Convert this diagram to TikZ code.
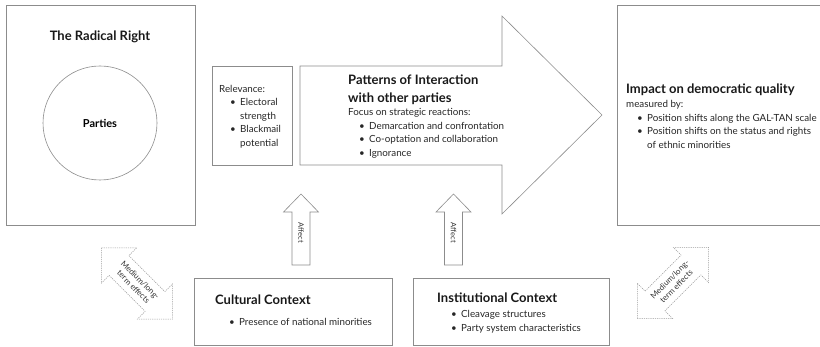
\documentclass[tikz,border=0pt]{standalone}
\usepackage{fontspec}
\setmainfont{Lato}
\usetikzlibrary{positioning}

\newcommand{\itm}[1]{\hspace*{11pt}\makebox[10pt][l]{\textbullet}#1}
\newcommand{\cnt}[1]{\hspace*{21pt}#1}

\begin{document}
\begin{tikzpicture}[x=1pt,y=-1pt]

\tikzset{
	frame/.style={draw=black!45,line width=0.6pt},
	dframe/.style={draw=black!40,line width=0.5pt,dash pattern=on 1.2pt off 1pt},
	ttl/.style={font=\fontsize{13}{17.5}\selectfont\bfseries,text=black!90,inner sep=0pt,align=left},
	txt/.style={font=\fontsize{9.8}{13.5}\selectfont,text=black!85,inner sep=0pt,align=left,anchor=base west},
	pics/affect/.style args={#1}{code={
	\draw[frame,fill=white] (-9,0) -- (-9,-53) -- (-17.5,-53) -- (0,-71)
		-- (17.5,-53) -- (9,-53) -- (9,0) -- cycle;
	\node[rotate=-90,font=\fontsize{7.5}{9}\selectfont,text=black!80,inner sep=0pt] (#1) at (0,-32) {Affect};
	},
	},
	pics/effects/.style args={#1/#2}{code={
	\draw[dframe,rotate=#1] (-50.5,0) -- (-25.5,25) -- (-25.5,14) -- (25.5,14)
		-- (25.5,25) -- (50.5,0) -- (25.5,-25) -- (25.5,-14) -- (-25.5,-14)
		-- (-25.5,-25) -- cycle;
	\node[rotate=#1,align=center,font=\fontsize{8}{9.5}\selectfont,text=black!80,inner sep=0pt] (#2) at (0,0) {Medium/long-\\term effects};
	},
	}
}
\clip (0,0) rectangle (820,347);

%THE RADICAL RIGHT
\draw[frame] (6,5) rectangle (195,225);
\node[ttl] (rr) at (100,37) {The Radical Right};
\node[circle,frame,minimum size=114pt,font=\fontsize{11}{13}\selectfont\bfseries] (parties) at (100,123) {Parties};

%RELEVANCE
\draw[frame] (212,66) rectangle (292,165);
\node[txt] (relevance) at (219,146.5) {Relevance:\\\itm{Electoral}\\\cnt{strength}\\\itm{Blackmail}\\\cnt{potential}};

%PATTERNS
\draw[frame] (300,66) -- (502,66) -- (502,16) -- (602,115) -- (502,214) -- (502,165) -- (300,165) -- cycle;
\node[ttl,anchor=base west] (patterns) at (348,102.5) {Patterns of Interaction\\with other parties};
\node[txt] (focus) at (348,156.5) {Focus on strategic reactions:\\\itm{Demarcation and confrontation}\\\itm{Co-optation and collaboration}\\\itm{Ignorance}};

%IMPACT
\draw[frame] (617,5) rectangle (830,225);
\node[ttl,anchor=base west] (impact) at (626,94) {Impact on democratic quality};
\node[txt] (measured) at (626,148.5) {measured by:\\\itm{Position shifts along the GAL-TAN scale}\\\itm{Position shifts on the status and rights}\\\cnt{of ethnic minorities}};

%CONTEXTS
\draw[frame] (194,278) rectangle (392,345);
\node[ttl,anchor=base west] (cultural) at (215,304.5) {Cultural Context};
\node[txt] (minorities) at (218,325.5) {\itm{Presence of national minorities}};
\draw[frame] (413,278) rectangle (609,345);
\node[ttl,anchor=base west] (institutional) at (437,302.5) {Institutional Context};
\node[txt] (cleavage) at (440,331.5) {\itm{Cleavage structures}\\\itm{Party system characteristics}};

%ARROWS
\draw (301,265) pic {affect={affectA}};
\draw (453.5,265) pic {affect={affectB}};
\draw (137,283.5) pic {effects={-45/effL}};
\draw (673,283) pic {effects={45/effR}};

\end{tikzpicture}
\end{document}
